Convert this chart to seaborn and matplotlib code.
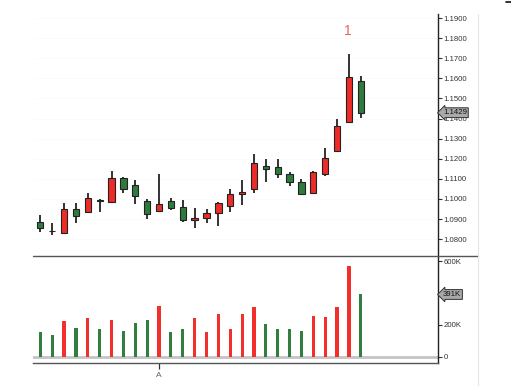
import numpy as np
import pandas as pd
import matplotlib
matplotlib.use("Agg")
import matplotlib.pyplot as plt
import seaborn as sns
from matplotlib.lines import Line2D
import matplotlib.transforms as mtransforms

# ---- data ----
opens = [1.0885, 1.0841, 1.0832, 1.0948, 1.0936, 1.0994, 1.0983, 1.1103, 1.1068, 1.0988,
         1.0938, 1.0988, 1.0961, 1.0895, 1.0906, 1.0928, 1.0966, 1.1024, 1.1048, 1.1165,
         1.1157, 1.1122, 1.1084, 1.1029, 1.1125, 1.1240, 1.1381, 1.1587]
closes = [1.0857, 1.0839, 1.0950, 1.0913, 1.1006, 1.0992, 1.1105, 1.1051, 1.1016, 1.0925,
          1.0973, 1.0953, 1.0897, 1.0903, 1.0928, 1.0978, 1.1024, 1.1036, 1.1177, 1.1147,
          1.1124, 1.1086, 1.1024, 1.1135, 1.1202, 1.1363, 1.1605, 1.1429]
highs = [1.0920, 1.0882, 1.0978, 1.0978, 1.1029, 1.1001, 1.1140, 1.1109, 1.1093, 1.0998,
         1.1124, 1.1003, 1.0996, 1.0953, 1.0948, 1.0985, 1.1049, 1.1096, 1.1222, 1.1197,
         1.1197, 1.1132, 1.1099, 1.1140, 1.1252, 1.1398, 1.1721, 1.1611]
lows = [1.0837, 1.0820, 1.0824, 1.0880, 1.0933, 1.0933, 1.0980, 1.1031, 1.0976, 1.0900,
        1.0933, 1.0946, 1.0887, 1.0855, 1.0882, 1.0864, 1.0935, 1.0968, 1.1031, 1.1086,
        1.1105, 1.1064, 1.1023, 1.1023, 1.1114, 1.1236, 1.1378, 1.1401]
volumes = [153000, 136000, 223000, 180000, 245000, 172000, 229000, 162000, 212000, 229000,
           321000, 157000, 176000, 241000, 153000, 270000, 172000, 267000, 314000, 206000,
           176000, 172000, 164000, 256000, 252000, 313000, 570000, 391000]
price_ticks = [1.08, 1.09, 1.10, 1.11, 1.12, 1.13, 1.14, 1.15, 1.16, 1.17, 1.18, 1.19]
vol_ticks = [0, 200000, 400000, 600000]
vol_tick_labels = ["0", "200K", "", "600K"]
x_tick_pos = [10]
x_tick_labels = ["A"]
last_price_label = "1.1429"
last_vol_label = "391K"
marker_label = "1"
marker_index = 26

RED = "#ef2b27"
GREEN = "#2e7b3c"
VRED = "#f22f2b"
VGREEN = "#327e3f"

sns.set_theme(style="white")
plt.rcParams["font.family"] = ["Liberation Sans", "DejaVu Sans"]

W, H = 511, 386
fig = plt.figure(figsize=(W / 100, H / 100), dpi=100)

def fx(px):
    return px / W

def fy(py):
    return 1 - py / H

L, R = 33, 438
axp = fig.add_axes([fx(L), fy(256), fx(R) - fx(L), fy(14) - fy(256)])
axv = fig.add_axes([fx(L), fy(362.7), fx(R) - fx(L), fy(256) - fy(362.7)])

n = len(opens)
idx = np.arange(n)
up = [c > o for o, c in zip(opens, closes)]
xlim = (-0.615, 33.5)

# ---- candles ----
for h in price_ticks:
    axp.axhline(h, color="#fbfbfb", lw=0.6, zorder=0)
axp.vlines(idx, lows, highs, color="#111111", lw=1.2, zorder=2)
bottoms = [min(o, c) for o, c in zip(opens, closes)]
heights = [abs(c - o) for o, c in zip(opens, closes)]
axp.bar(idx, heights, width=0.53, bottom=bottoms,
        color=[RED if u else GREEN for u in up], edgecolor="#222222", linewidth=0.8, zorder=3)
axp.set_xlim(*xlim)
axp.set_ylim(1.0716, 1.1920)
axp.yaxis.tick_right()
axp.set_yticks(price_ticks)
axp.set_yticklabels([f"{t:.4f}" for t in price_ticks])
axp.tick_params(axis="y", direction="out", length=3, width=0.8, pad=1,
                labelsize=5.6, colors="#333333", right=True, left=False)
axp.tick_params(axis="x", bottom=False, labelbottom=False)
for s in ["top", "left", "bottom"]:
    axp.spines[s].set_visible(False)
axp.spines["right"].set_color("#222222")
axp.spines["right"].set_linewidth(1.0)
axp.text(marker_index - 0.1, 1.1835, marker_label, color="#f06060", fontsize=10,
         ha="center", va="center")

trp = mtransforms.blended_transform_factory(axp.transAxes, axp.transData)
axp.text(1.012, closes[-1], last_price_label, transform=trp, ha="left", va="center",
         fontsize=5.6, color="#111111", zorder=10, clip_on=False,
         bbox=dict(boxstyle="larrow,pad=0.18", fc="#a9a9a9", ec="#333333", lw=0.7))

# ---- volume ----
df = pd.DataFrame({"i": idx, "vol": volumes, "dir": ["up" if u else "down" for u in up]})
sns.barplot(data=df, x="i", y="vol", hue="dir", palette={"up": VRED, "down": VGREEN},
            native_scale=True, width=0.27, dodge=False, legend=False, saturation=1,
            linewidth=0, ax=axv, zorder=3)
axv.axhline(0, color="#c4c4c4", lw=2.0, zorder=2)
axv.set_xlim(*xlim)
axv.set_ylim(-38000, 633000)
axv.set_xlabel("")
axv.set_ylabel("")
axv.yaxis.tick_right()
axv.set_yticks(vol_ticks)
axv.set_yticklabels(vol_tick_labels)
axv.tick_params(axis="y", direction="out", length=3, width=0.8, pad=1,
                labelsize=5.6, colors="#333333", right=True, left=False)
axv.set_xticks(x_tick_pos)
axv.set_xticklabels(x_tick_labels)
axv.tick_params(axis="x", direction="out", length=4.5, width=0.9, pad=2,
                labelsize=6, colors="#333333", labelcolor="#5a6578", bottom=True)
for s in ["top", "left"]:
    axv.spines[s].set_visible(False)
for s in ["right", "bottom"]:
    axv.spines[s].set_color("#222222")
    axv.spines[s].set_linewidth(1.0)
axv.spines["bottom"].set_color("#555555")
trv = mtransforms.blended_transform_factory(axv.transAxes, axv.transData)
axv.text(1.012, volumes[-1], last_vol_label, transform=trv, ha="left", va="center",
         fontsize=5.6, color="#111111", zorder=10, clip_on=False,
         bbox=dict(boxstyle="larrow,pad=0.18", fc="#a9a9a9", ec="#333333", lw=0.7))

# ---- frame lines ----
fig.add_artist(Line2D([fx(L), fx(478)], [fy(256), fy(256)], color="#555555", lw=1.0))
fig.add_artist(Line2D([fx(478), fx(478)], [fy(14), fy(386)], color="#e6e6e6", lw=0.8))
fig.add_artist(Line2D([fx(506), fx(511)], [fy(1.5), fy(1.5)], color="#111111", lw=1.2))

fig.savefig("out.png", dpi=100)
